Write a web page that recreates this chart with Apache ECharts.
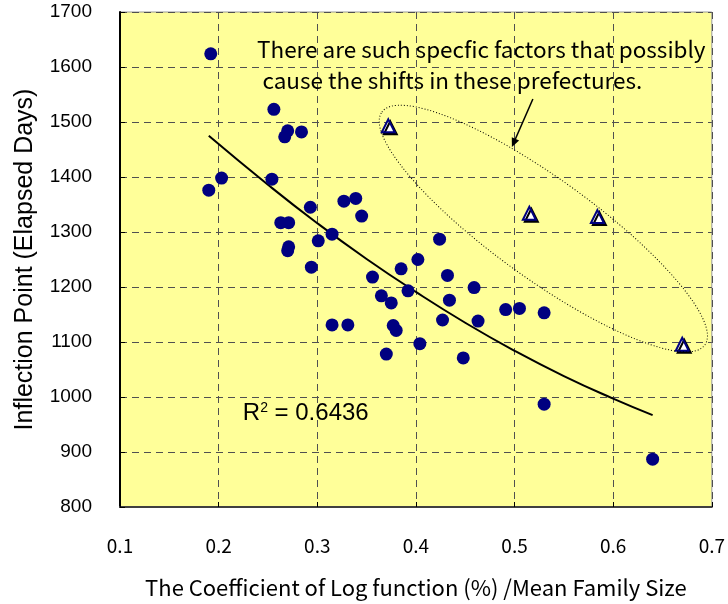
<!DOCTYPE html>
<html>
<head>
<meta charset="utf-8">
<script src="https://cdn.jsdelivr.net/npm/echarts@6/dist/echarts.min.js"></script>
<style>
html,body{margin:0;padding:0;background:#fff;}
#chart{width:728px;height:604px;}
</style>
</head>
<body>
<div id="chart"></div>
<script>
// ---- Data ----
const circleX = [0.192,0.256,0.270,0.267,0.284,0.203,0.190,0.254,0.293,0.327,0.339,0.345,0.263,0.271,0.301,0.315,0.271,0.270,0.294,0.356,0.365,0.315,0.331,0.424,0.402,0.385,0.432,0.459,0.392,0.375,0.434,0.491,0.505,0.530,0.427,0.463,0.377,0.380,0.404,0.370,0.448,0.530,0.640];
const circleY = [1624,1523,1484,1473,1482,1398,1376,1396,1345,1356,1361,1329,1317,1317,1284,1296,1273,1266,1236,1218,1184,1131,1131,1287,1250,1233,1221,1199,1193,1171,1176,1159,1161,1153,1140,1138,1130,1121,1097,1078,1071,987,887];
const triangleX = [0.372,0.515,0.584,0.670];
const triangleY = [1493,1334,1328,1096];
const trendX = [0.19,0.25,0.30,0.35,0.40,0.45,0.50,0.55,0.60,0.64];
const trendY = [1475,1386,1316,1251,1191,1135,1084,1038,997,967];
const xMin = 0.1, xMax = 0.7, xStep = 0.1;
const yMin = 800, yMax = 1700, yStep = 100;
const xTitle = 'The Coefficient of Log function (%) /Mean Family Size';
const yTitle = 'Inflection Point (Elapsed Days)';
const noteLines = ['There are such specfic factors that possibly', 'cause the shifts in these prefectures.'];
const r2Text = '0.6436';

const zip = (a, b) => a.map((v, i) => [v, b[i]]);

const chart = echarts.init(document.getElementById('chart'));
const option = {
  backgroundColor: '#ffffff',
  animation: false,
  grid: {left: 120, top: 12, width: 592, height: 495, show: true, backgroundColor: '#ffff99', borderColor: '#999999', borderWidth: 1},
  xAxis: {
    type: 'value', min: xMin, max: xMax, interval: xStep,
    name: xTitle, nameLocation: 'middle', nameGap: 70,
    nameTextStyle: {fontFamily: 'Noto Sans CJK JP', fontSize: 22, color: '#000'},
    axisLine: {show: true, lineStyle: {color: '#404040', width: 2}},
    axisTick: {show: true, inside: true, length: 5, lineStyle: {color: '#000'}},
    axisLabel: {margin: 29, fontFamily: 'Noto Sans CJK JP', fontSize: 19, color: '#000', formatter: v => v.toFixed(1)},
    splitLine: {show: true, lineStyle: {type: [7, 5], color: '#505050', width: 1}}
  },
  yAxis: {
    type: 'value', min: yMin, max: yMax, interval: yStep,
    name: yTitle, nameLocation: 'middle', nameGap: 82, nameRotate: 90,
    nameTextStyle: {fontFamily: 'Liberation Sans', fontSize: 25, color: '#000'},
    axisLine: {show: true, lineStyle: {color: '#000', width: 2}},
    axisTick: {show: true, inside: true, length: 5, lineStyle: {color: '#000'}},
    axisLabel: {margin: 28, fontFamily: 'Liberation Sans', fontSize: 19, color: '#000', formatter: v => String(v)},
    splitLine: {show: true, lineStyle: {type: [7, 5], color: '#505050', width: 1}}
  },
  series: [
    {type: 'line', data: zip(trendX, trendY), smooth: true, showSymbol: false, symbol: 'none',
     lineStyle: {color: '#000', width: 2}, z: 2},
    {type: 'scatter', data: zip(circleX, circleY), symbol: 'circle', symbolSize: 13,
     itemStyle: {color: '#000080', opacity: 1}, z: 3},
    {type: 'scatter', data: zip(triangleX, triangleY), symbol: 'triangle', symbolSize: 13,
     itemStyle: {color: '#ffffff', borderColor: '#000080', borderWidth: 2, shadowColor: '#000', shadowOffsetX: 2, shadowOffsetY: 2, shadowBlur: 0, opacity: 1}, z: 3}
  ]
};
chart.setOption(option);

const px = (x, y) => chart.convertToPixel({gridIndex: 0}, [x, y]);
// annotation anchors (data coordinates)
const tipA = px(0.3655, 1518), tipB = px(0.6929, 1094.5);
const cx = (tipA[0] + tipB[0]) / 2, cy = (tipA[1] + tipB[1]) / 2;
const semiMajor = Math.hypot(tipB[0] - tipA[0], tipB[1] - tipA[1]) / 2;
const ang = Math.atan2(tipB[1] - tipA[1], tipB[0] - tipA[0]);
const arrS = px(0.5186, 1541.8), arrE = px(0.4973, 1454.5);
const aAng = Math.atan2(arrE[1] - arrS[1], arrE[0] - arrS[0]);
const hl = 9, hw = 4;
const head = [
  [arrE[0], arrE[1]],
  [arrE[0] - hl * Math.cos(aAng) + hw * Math.sin(aAng), arrE[1] - hl * Math.sin(aAng) - hw * Math.cos(aAng)],
  [arrE[0] - hl * Math.cos(aAng) - hw * Math.sin(aAng), arrE[1] - hl * Math.sin(aAng) + hw * Math.cos(aAng)]
];
const t1 = px(0.2389, 1631), t2 = px(0.2444, 1576);
const r2 = px(0.2245, 971);

chart.setOption({
  graphic: [
    {type: 'ellipse', x: cx, y: cy, rotation: -ang, shape: {cx: 0, cy: 0, rx: semiMajor, ry: 50},
     style: {fill: null, stroke: '#000', lineWidth: 1, lineDash: [1, 2]}, z: 10},
    {type: 'line', shape: {x1: arrS[0], y1: arrS[1], x2: arrE[0] - 6 * Math.cos(aAng), y2: arrE[1] - 6 * Math.sin(aAng)},
     style: {stroke: '#000', lineWidth: 1.5}, z: 10},
    {type: 'polygon', shape: {points: head}, style: {fill: '#000'}, z: 10},
    {type: 'text', x: t1[0], y: t1[1], style: {text: noteLines[0], font: '22.5px "Noto Sans CJK JP"', fill: '#000', textAlign: 'left', textVerticalAlign: 'middle'}, z: 10},
    {type: 'text', x: t2[0], y: t2[1], style: {text: noteLines[1], font: '22.5px "Noto Sans CJK JP"', fill: '#000', textAlign: 'left', textVerticalAlign: 'middle'}, z: 10},
    {type: 'text', x: r2[0], y: r2[1], style: {
      text: '{a|R}{s|2}{a| = ' + r2Text + '}',
      textVerticalAlign: 'middle', textAlign: 'left',
      rich: {a: {fontFamily: 'Liberation Sans', fontSize: 24, fill: '#000', color: '#000'},
             s: {fontFamily: 'Liberation Sans', fontSize: 14, color: '#000', fill: '#000', verticalAlign: 'top', padding: [0, 0, 9, 0]}}
    }, z: 10}
  ]
});
</script>
</body>
</html>
